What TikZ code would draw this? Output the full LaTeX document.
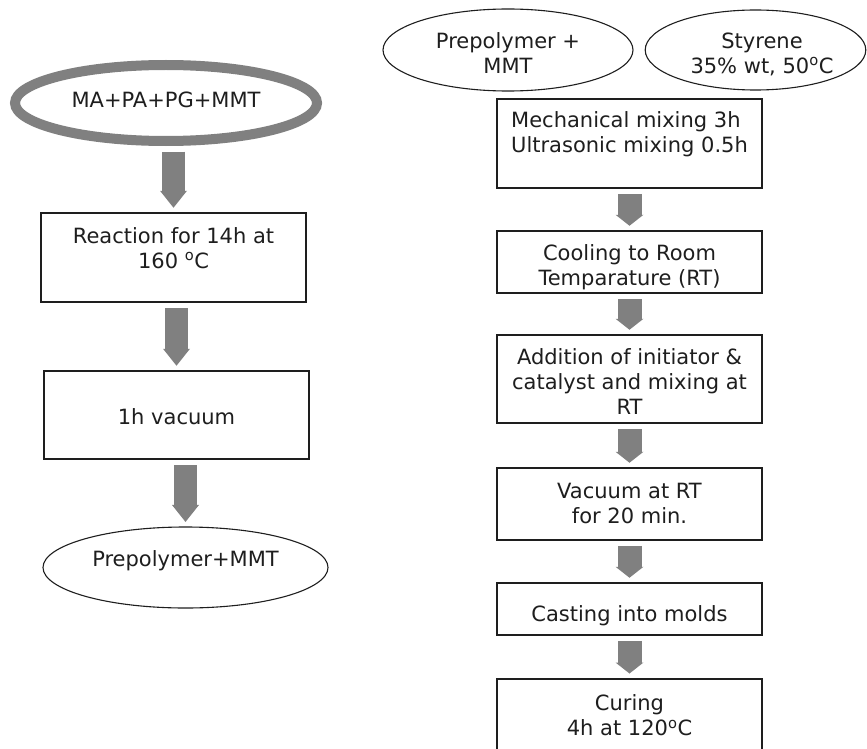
\documentclass[tikz,border=0pt]{standalone}
\usepackage{fontspec}
\setmainfont{DejaVu Sans}
\usetikzlibrary{arrows.meta,shapes.geometric}
\definecolor{agray}{RGB}{128,128,128}
\definecolor{txt}{RGB}{30,30,30}
\definecolor{edge}{RGB}{30,30,30}
\newcommand{\hs}[1]{\rule{0pt}{#1}}
\newcommand{\ds}[1]{\rule[-#1]{0pt}{#1}}
\begin{document}
\begin{tikzpicture}[x=1pt,y=-1pt,
  every node/.style={font=\fontsize{21}{25}\selectfont, text=txt, inner sep=0pt},
  box/.style={draw=edge, line width=1.5pt, align=center, minimum width=265pt},
  ell/.style={ellipse, draw=edge, line width=1.1pt, align=center},
  blkL/.style={draw=agray, line width=23pt, -{Triangle[length=17pt,width=27pt,line width=0pt]}, shorten <=5.5pt, shorten >=4.5pt},
  blkR/.style={draw=agray, line width=24pt, -{Triangle[length=11pt,width=28pt,line width=0pt]}, shorten <=5pt, shorten >=4.5pt}]
\clip (0,0) rectangle (867,749);
\fill[white] (0,0) rectangle (867,749);
% left column
\node[ell, draw=agray, line width=10pt, minimum width=302pt, minimum height=76pt] (e1) at (166,103) {\hs{17pt}MA+PA+PG+MMT\ds{7pt}};
\node[box, minimum height=89pt] (b1) at (173.5,257.5) {\hs{17pt}Reaction for 14h at\\160 \textsuperscript{o}C\ds{21pt}};
\node[box, minimum height=88pt] (b2) at (176.5,415) {\hs{20pt}1h vacuum};
\node[ell, minimum width=285pt, minimum height=81pt] (e2) at (185.5,567.5) {\hs{17pt}Prepolymer+MMT\ds{20pt}};
% right column
\node[ell, minimum width=250pt, minimum height=82pt] (p) at (508,50) {\hs{24.6pt}Prepolymer +\\MMT\ds{3pt}};
\node[ell, minimum width=219pt, minimum height=80pt] (s) at (755.5,50) {\hs{24.6pt}\hspace*{13pt}Styrene\\\hspace*{13pt}35\% wt, 50\textsuperscript{o}C\ds{3pt}};
\node[box, align=left, minimum height=89pt] (m) at (629.5,143.5) {\hs{17pt}Mechanical mixing 3h\\Ultrasonic mixing 0.5h\ds{23pt}};
\node[box, minimum height=62pt] (c) at (629.5,262) {\hs{27.4pt}Cooling to Room\\Temparature (RT)\ds{5pt}};
\node[box, minimum height=88pt] (ad) at (629.5,379) {\hs{21pt}Addition of initiator \&\\catalyst and mixing at\\RT\ds{1pt}};
\node[box, minimum height=72pt] (v) at (629.5,504) {\hs{17pt}Vacuum at RT\\for 20 min.\ds{4pt}};
\node[box, minimum height=52pt] (ca) at (629.5,609) {\hs{30pt}Casting into molds\ds{5pt}};
\node[box, minimum height=110pt, anchor=north] (cu) at (629.5,678) {\hs{17pt}Curing\\4h at 120\textsuperscript{o}C\ds{38pt}};
% arrows
\draw[blkL] (e1.south -| b1.north) -- (b1.north);
\draw[blkL] (b1.south -| b2.north) -- (b2.north);
\draw[blkL] (b2.south -| e2.north) -- (e2.north);
\draw[blkR] (m.south) -- (c.north);
\draw[blkR] (c.south) -- (ad.north);
\draw[blkR] (ad.south) -- (v.north);
\draw[blkR] (v.south) -- (ca.north);
\draw[blkR] (ca.south) -- (cu.north);
\end{tikzpicture}
\end{document}
